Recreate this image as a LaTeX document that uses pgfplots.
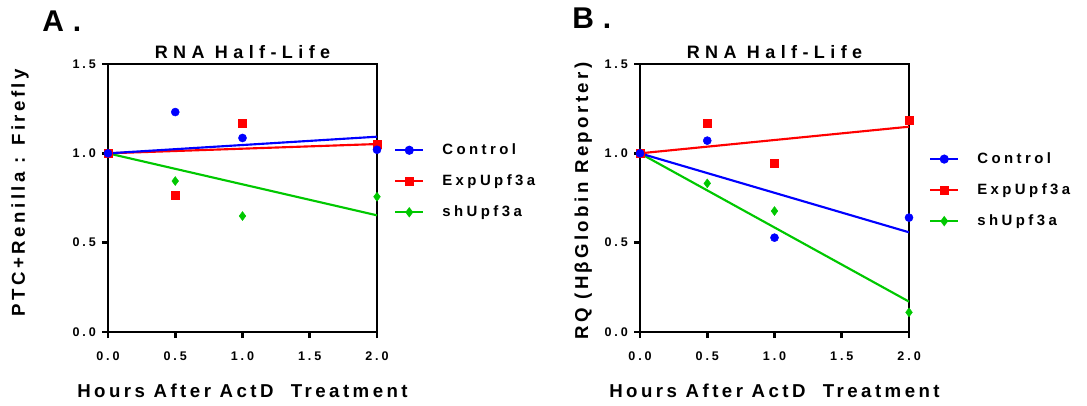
\documentclass[border=0pt]{standalone}
\usepackage{pgfplots}
\pgfplotsset{compat=1.18}
\usepackage{fontspec}
\setmainfont{Liberation Sans}
\newfontfamily\titlefont[LetterSpace=30]{Liberation Sans}
\newfontfamily\labfont[LetterSpace=18.5]{Liberation Sans}
\newfontfamily\tickfont[LetterSpace=24]{Liberation Sans}
\newfontfamily\legfont[LetterSpace=23]{Liberation Sans}
\newfontfamily\panfont[LetterSpace=30]{Liberation Sans}
\definecolor{cblue}{RGB}{0,0,255}
\definecolor{cred}{RGB}{255,0,0}
\definecolor{cgreen}{RGB}{0,200,0}
\pgfplotsset{
  myaxis/.style={
    scale only axis, width=201.75pt, height=201pt,
    xmin=0, xmax=2, ymin=0, ymax=1.5,
    xtick={0,0.5,1,1.5,2}, ytick={0,0.5,1,1.5},
    xtick pos=bottom, ytick pos=left,
    axis line style={line width=2.2pt},
    tick style={line width=2.2pt, black},
    tick align=outside, major tick length=4.5pt,
    clip=false,
    /pgf/number format/.cd, fixed, fixed zerofill, precision=1, assume math mode=true,
    /pgfplots/.cd,
    tick label style={font=\tickfont\bfseries\fontsize{9.4}{11}\selectfont},
    xticklabel style={yshift=-7pt},
    yticklabel style={xshift=-1pt},
    title={RNA Half-Life},
    every axis title shift=0pt,
    title style={font=\titlefont\bfseries\fontsize{13.5}{15}\selectfont, at={(axis description cs:0.5,1.019)}, anchor=base, yshift=0pt},
    xlabel={Hours After ActD\ \ Treatment},
    xlabel style={font=\labfont\bfseries\fontsize{14}{16}\selectfont, at={(axis description cs:0.5,-0.246)}, anchor=base},
    ylabel style={font=\labfont\bfseries\fontsize{14}{16}\selectfont},
    legend style={draw=none, fill=none, anchor=north west, inner sep=0pt,
      font=\legfont\bfseries\fontsize{11.2}{13}\selectfont,
      nodes={inner sep=0pt, text height=8pt, text depth=2pt},
      row sep=13.25pt,
      /tikz/every odd column/.append style={column sep=13.5pt}},
    legend cell align=left,
    legend image code/.code={\draw[mark repeat=2,mark phase=2,##1] plot coordinates {(0pt,0pt) (10.5pt,0pt) (21pt,0pt)};},
  },
  cs/.style={cblue, only marks, mark=*, mark size=3pt, mark options={fill=cblue, draw=cblue}},
  es/.style={cred, only marks, mark=square*, mark size=3pt, mark options={fill=cred, draw=cred}},
  gs/.style={cgreen, only marks, mark=diamond*, mark size=3.3pt, mark options={fill=cgreen, draw=cgreen}},
  cl/.style={cblue, line width=1.6pt, mark=none},
  el/.style={cred, line width=1.6pt, mark=none},
  gl/.style={cgreen, line width=1.6pt, mark=none},
}
\begin{document}
\begin{tikzpicture}
\path[use as bounding box] (0,0) rectangle (815.25pt,304.5pt);
\node[anchor=base west, inner sep=0pt, font=\panfont\bfseries\fontsize{22.5}{26}\selectfont] at (31.5pt,280.5pt) {A.};
\node[anchor=base west, inner sep=0pt, font=\panfont\bfseries\fontsize{22.5}{26}\selectfont] at (429pt,282.75pt) {B.};
% Panel A
\begin{axis}[myaxis, at={(81pt,55.5pt)}, anchor=south west,
  ylabel={PTC+Renilla : Firefly},
  ylabel style={at={(axis description cs:-0.309,0.52)}, anchor=base},
  legend style={at={(1.063,0.704)}}]
\addplot[gl, forget plot] coordinates {(0,1) (2,0.653)};
\addplot[el, forget plot] coordinates {(0,1) (2,1.052)};
\addplot[cl, forget plot] coordinates {(0,1) (2,1.093)};
\addplot[gs, forget plot] coordinates {(0,1) (0.5,0.845) (1,0.649) (2,0.757)};
\addplot[es, forget plot] coordinates {(0,1) (0.5,0.765) (1,1.171) (2,1.050)};
\addplot[cs, forget plot] coordinates {(0,1) (0.5,1.231) (1,1.086) (2,1.020)};
\addlegendimage{cblue, line width=1.6pt, mark=*, mark size=2.6pt, mark options={fill=cblue}}
\addlegendentry{Control}
\addlegendimage{cred, line width=1.6pt, mark=square*, mark size=2.6pt, mark options={fill=cred}}
\addlegendentry{ExpUpf3a}
\addlegendimage{cgreen, line width=1.6pt, mark=diamond*, mark size=2.6pt, mark options={fill=cgreen}}
\addlegendentry{shUpf3a}
\end{axis}
% Panel B
\begin{axis}[myaxis, at={(480pt,55.5pt)}, anchor=south west,
  ylabel={RQ (H\kern0.15em β\kern0.15em Globin Reporter)},
  ylabel style={at={(axis description cs:-0.193,0.49)}, anchor=base},
  legend style={at={(1.074,0.671)}}]
\addplot[gl, forget plot] coordinates {(0,1) (2,0.170)};
\addplot[el, forget plot] coordinates {(0,1) (2,1.149)};
\addplot[cl, forget plot] coordinates {(0,1) (2,0.558)};
\addplot[gs, forget plot] coordinates {(0,1) (0.5,0.832) (1,0.677) (2,0.110)};
\addplot[es, forget plot] coordinates {(0,1) (0.5,1.168) (1,0.944) (2,1.186)};
\addplot[cs, forget plot] coordinates {(0,1) (0.5,1.071) (1,0.528) (2,0.640)};
\addlegendimage{cblue, line width=1.6pt, mark=*, mark size=2.6pt, mark options={fill=cblue}}
\addlegendentry{Control}
\addlegendimage{cred, line width=1.6pt, mark=square*, mark size=2.6pt, mark options={fill=cred}}
\addlegendentry{ExpUpf3a}
\addlegendimage{cgreen, line width=1.6pt, mark=diamond*, mark size=2.6pt, mark options={fill=cgreen}}
\addlegendentry{shUpf3a}
\end{axis}
\end{tikzpicture}
\end{document}
